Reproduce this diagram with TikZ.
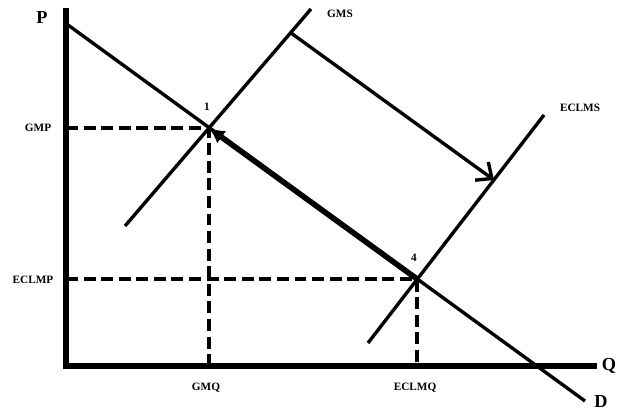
\documentclass[tikz,border=0pt]{standalone}
\usepackage{fontspec}
\setmainfont{Liberation Serif}
\usetikzlibrary{arrows.meta}

\begin{document}
\begin{tikzpicture}[x=0.025cm, y=-0.025cm,
  every node/.style={font=\bfseries\fontsize{8}{9}\selectfont, inner sep=1pt},
  axislabel/.style={font=\bfseries\fontsize{13}{14}\selectfont},
  curve/.style={line width=2.4pt},
  guide/.style={line width=2.3pt, dash pattern=on 8.5pt off 4pt}]
\useasboundingbox (0,0) rectangle (617,411);
% points and ends
\coordinate (o) at (66,366);
\coordinate (ptop) at (66,8);
\coordinate (qend) at (597,366);
\coordinate (dtop) at (68,25);
\coordinate (dend) at (585,401);
\coordinate (gmslo) at (125,226);
\coordinate (gmshi) at (311,9);
\coordinate (eclo) at (368,343);
\coordinate (echi) at (544,115);
\coordinate (p1) at (209,128);
\coordinate (p4) at (417,279);
\coordinate (shiftstart) at (291,33);
\coordinate (shiftend) at (494,180);
% axes
\draw[line width=3.6pt] (ptop) -- (o) -- (qend);
% dashed guides
\draw[guide] (o |- p1) -- (p1) -- (p1 |- o);
\draw[guide] (o |- p4) -- (p4) -- (p4 |- o);
% demand and supply
\draw[curve] (dtop) -- (dend);
\draw[curve] (gmslo) -- (gmshi);
\draw[curve] (eclo) -- (echi);
% shift arrow
\draw[curve, -{Straight Barb[length=9pt, width=16pt, line width=2.4pt]}] (shiftstart) -- (shiftend);
% movement along demand
\draw[line width=4pt, -{Latex[length=11pt, width=11pt]}] (p4) -- (p1);
% labels
\node[axislabel] (lp) at (42,18) {P};
\node[axislabel] (lq) at (609,366) {Q};
\node[axislabel] (ld) at (601,402) {D};
\node (lgmp) at (38,128) {GMP};
\node (leclmp) at (33,280) {ECLMP};
\node (lgmq) at (206,388) {GMQ};
\node (leclmq) at (415,388) {ECLMQ};
\node (lgms) at (340,14) {GMS};
\node (leclms) at (580,108) {ECLMS};
\node (lone) at (207,107) {1};
\node (lfour) at (414,258) {4};
\end{tikzpicture}
\end{document}
